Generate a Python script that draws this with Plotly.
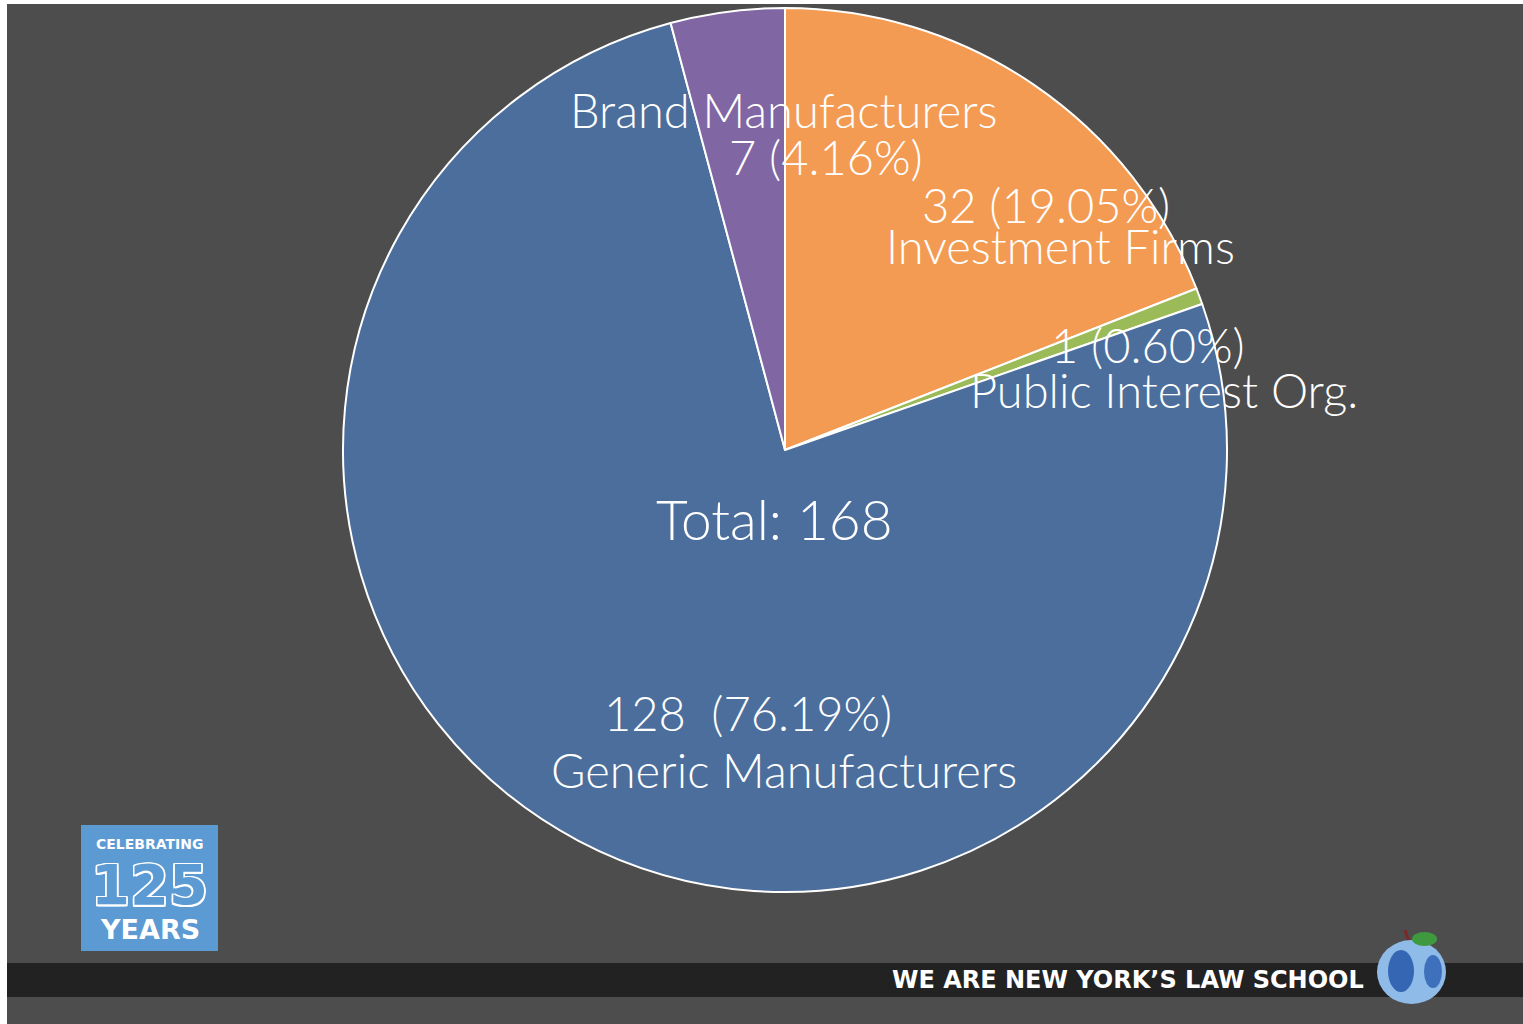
import plotly.graph_objects as go

# ---- data ----
categories = ["Investment Firms", "Public Interest Org.", "Generic Manufacturers", "Brand Manufacturers"]
values = [32, 1, 128, 7]
pct_labels = ["19.05%", "0.60%", "76.19%", "4.16%"]
colors = ["#f39b53", "#9bbb59", "#4b6e9c", "#8066a3"]
total_label = "Total: 168"

W, H = 1523, 1024
BG = "#4d4d4d"

def px(x):
    return x / W

def py(y):
    return 1 - y / H

fig = go.Figure()
fig.add_trace(go.Pie(
    labels=categories,
    values=values,
    sort=False,
    direction="clockwise",
    rotation=0,
    marker=dict(colors=colors, line=dict(color="white", width=2)),
    textinfo="none",
    hoverinfo="label+value+percent",
    showlegend=False,
    domain=dict(x=[px(343), px(1227)], y=[py(892), py(8)]),
))

FONT = "Lato"
ann = []

def add(text, x, y, size=47):
    ann.append(dict(text=text, x=px(x), y=py(y), xref="paper", yref="paper",
                    showarrow=False, xanchor="center", yanchor="middle",
                    font=dict(family=FONT, color="white", size=size, weight=300)))

# slice labels (positions in pixels)
add(categories[3], 784, 110)
add(f"{values[3]} ({pct_labels[3]})", 826, 157)
add(f"{values[0]} ({pct_labels[0]})", 1046, 205)
add(categories[0], 1060, 246)
add(f"{values[1]} ({pct_labels[1]})", 1148, 345)
add(categories[1], 1164, 390)
add(total_label, 774, 519, size=55)
add(f"{values[2]}  ({pct_labels[2]})", 748, 713)
add(categories[2], 784, 770)

# banner text
ann.append(dict(text="WE ARE NEW YORK\u2019S LAW SCHOOL", x=px(1366), y=py(980),
                xref="paper", yref="paper", showarrow=False, xanchor="right", yanchor="middle",
                font=dict(family="DejaVu Sans", size=24, color="white", weight="bold")))

# 125 logo
ann.append(dict(text="CELEBRATING", x=px(149.5), y=py(844), xref="paper", yref="paper",
                showarrow=False, xanchor="center", yanchor="middle",
                font=dict(family="DejaVu Sans", size=14, color="white", weight="bold")))
outline = ",".join(f"{dx}px {dy}px 0 white" for dx in (-1.5, 0, 1.5) for dy in (-1.5, 0, 1.5) if (dx, dy) != (0, 0))
ann.append(dict(text="125", x=px(149.5), y=py(884), xref="paper", yref="paper",
                showarrow=False, xanchor="center", yanchor="middle",
                font=dict(family="DejaVu Sans", size=56, color="#5b9ad2", weight="bold", shadow=outline)))
ann.append(dict(text="YEARS", x=px(149.5), y=py(929), xref="paper", yref="paper",
                showarrow=False, xanchor="center", yanchor="middle",
                font=dict(family="DejaVu Sans", size=27, color="white", weight="bold")))

shapes = [
    # white edges
    dict(type="rect", xref="paper", yref="paper", x0=0, x1=px(7), y0=0, y1=1,
         fillcolor="white", line=dict(width=0), layer="below"),
    dict(type="rect", xref="paper", yref="paper", x0=0, x1=1, y0=py(4), y1=1,
         fillcolor="white", line=dict(width=0), layer="below"),
    # bottom banner
    dict(type="rect", xref="paper", yref="paper", x0=px(7), x1=1, y0=py(997), y1=py(963),
         fillcolor="#222222", line=dict(width=0), layer="below"),
    # 125 logo box
    dict(type="rect", xref="paper", yref="paper", x0=px(81), x1=px(218), y0=py(951), y1=py(825),
         fillcolor="#5b9ad2", line=dict(width=0), layer="below"),
    # apple globe
    dict(type="line", xref="paper", yref="paper", x0=px(1405), x1=px(1410), y0=py(930), y1=py(945),
         line=dict(color="#7a2a2a", width=3)),
    dict(type="circle", xref="paper", yref="paper", x0=px(1377), x1=px(1446), y0=py(1004), y1=py(940),
         fillcolor="#8fbbe8", line=dict(width=0)),
    dict(type="circle", xref="paper", yref="paper", x0=px(1388), x1=px(1414), y0=py(992), y1=py(950),
         fillcolor="#3466b4", line=dict(width=0)),
    dict(type="circle", xref="paper", yref="paper", x0=px(1424), x1=px(1442), y0=py(988), y1=py(955),
         fillcolor="#3f70bc", line=dict(width=0)),
    dict(type="circle", xref="paper", yref="paper", x0=px(1412), x1=px(1437), y0=py(946), y1=py(932),
         fillcolor="#3f9a3f", line=dict(width=0)),
]

fig.update_layout(
    width=W, height=H,
    margin=dict(l=0, r=0, t=0, b=0),
    paper_bgcolor=BG, plot_bgcolor=BG,
    annotations=ann, shapes=shapes,
)

fig.write_html("out.html")
